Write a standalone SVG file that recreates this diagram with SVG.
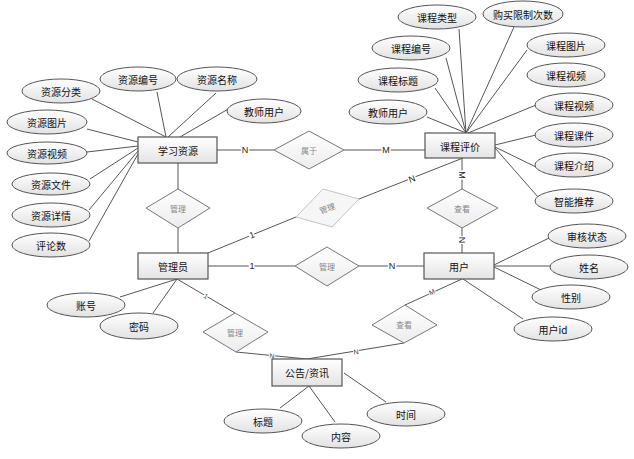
<svg xmlns="http://www.w3.org/2000/svg" width="634" height="459" viewBox="0 0 634 459">
<defs>
<linearGradient id="gE" x1="0" y1="0" x2="0" y2="1"><stop offset="0" stop-color="#ffffff"/><stop offset="1" stop-color="#e4e4e4"/></linearGradient>
<linearGradient id="gA" x1="0" y1="0" x2="0" y2="1"><stop offset="0" stop-color="#ffffff"/><stop offset="1" stop-color="#e2e2e2"/></linearGradient>
<linearGradient id="gR" x1="0" y1="0" x2="0" y2="1"><stop offset="0" stop-color="#ffffff"/><stop offset="1" stop-color="#ececec"/></linearGradient>
</defs>
<style>
.ent{fill:url(#gE);stroke:#555;stroke-width:1.2}
.att{fill:url(#gA);stroke:#555;stroke-width:1}
.rel{fill:url(#gR);stroke:#777;stroke-width:1}
.relf{fill:#f6f6f6;stroke:#c4c4c4;stroke-width:1}
.t{font-family:"Noto Sans CJK SC","Liberation Sans",sans-serif;font-size:10px;fill:#111;text-anchor:middle;dominant-baseline:central}
.rt{font-family:"Noto Sans CJK SC","Liberation Sans",sans-serif;font-size:8px;fill:#888;text-anchor:middle;dominant-baseline:central}
.ln{stroke:#555;stroke-width:1;fill:none}
.lb{font-family:"Liberation Sans",sans-serif;font-size:9px;fill:#222;text-anchor:middle;dominant-baseline:central;stroke:#fff;stroke-width:3;paint-order:stroke}
.lbs{font-family:"Liberation Sans",sans-serif;font-size:7px;fill:#444;text-anchor:middle;dominant-baseline:central;stroke:#fff;stroke-width:2;paint-order:stroke}
</style>
<rect width="634" height="459" fill="#fff"/>
<g id="connectors">
<line class="ln" x1="92" y1="99" x2="166" y2="137"/>
<line class="ln" x1="157" y1="92" x2="166" y2="137"/>
<line class="ln" x1="216" y1="93" x2="168" y2="137"/>
<line class="ln" x1="230" y1="108" x2="180" y2="137"/>
<line class="ln" x1="87" y1="129" x2="138" y2="142"/>
<line class="ln" x1="87" y1="152" x2="138" y2="146"/>
<line class="ln" x1="90" y1="179" x2="138" y2="148"/>
<line class="ln" x1="89" y1="210" x2="138" y2="151"/>
<line class="ln" x1="89" y1="241" x2="138" y2="154"/>
<line class="ln" x1="459" y1="29" x2="466" y2="133"/>
<line class="ln" x1="514" y1="27" x2="466" y2="133"/>
<line class="ln" x1="446" y1="58" x2="466" y2="133"/>
<line class="ln" x1="527" y1="50" x2="466" y2="133"/>
<line class="ln" x1="435" y1="88" x2="466" y2="133"/>
<line class="ln" x1="427" y1="117" x2="466" y2="133"/>
<line class="ln" x1="536" y1="105" x2="468" y2="133"/>
<line class="ln" x1="536" y1="135" x2="495" y2="145"/>
<line class="ln" x1="536" y1="167" x2="495" y2="147"/>
<line class="ln" x1="538" y1="197" x2="495" y2="148"/>
<line class="ln" x1="494" y1="265" x2="549" y2="238"/>
<line class="ln" x1="494" y1="266" x2="550" y2="266"/>
<line class="ln" x1="494" y1="267" x2="541" y2="290"/>
<line class="ln" x1="463" y1="279" x2="523" y2="319"/>
<line class="ln" x1="177" y1="279" x2="120" y2="297"/>
<line class="ln" x1="177" y1="279" x2="153" y2="313"/>
<line class="ln" x1="309" y1="386" x2="280" y2="408"/>
<line class="ln" x1="309" y1="386" x2="335" y2="422"/>
<line class="ln" x1="344" y1="373" x2="386" y2="402"/>
<line class="ln" x1="217" y1="150" x2="274" y2="150"/>
<line class="ln" x1="344" y1="150" x2="425" y2="150"/>
<line class="ln" x1="178" y1="163" x2="178" y2="189"/>
<line class="ln" x1="178" y1="228" x2="178" y2="253"/>
<line class="ln" x1="208" y1="253" x2="296" y2="217"/>
<line class="ln" x1="359" y1="199" x2="463" y2="158"/>
<line class="ln" x1="208" y1="266" x2="295" y2="266"/>
<line class="ln" x1="359" y1="266" x2="424" y2="266"/>
<line class="ln" x1="462" y1="158" x2="462" y2="189"/>
<line class="ln" x1="462" y1="228" x2="462" y2="253"/>
<line class="ln" x1="177" y1="279" x2="235" y2="313"/>
<line class="ln" x1="236" y1="352" x2="307" y2="359"/>
<line class="ln" x1="462" y1="279" x2="405" y2="305"/>
<line class="ln" x1="404" y1="343" x2="307" y2="359"/>
<text class="lb" x="245" y="150">N</text>
<text class="lb" x="386" y="150">M</text>
<text class="lb" x="252" y="235" transform="rotate(-22 252 235)">1</text>
<text class="lb" x="412" y="179" transform="rotate(-21 412 179)">N</text>
<text class="lb" x="252" y="266">1</text>
<text class="lb" x="392" y="266">N</text>
<text class="lb" x="462" y="175" transform="rotate(90 462 175)">M</text>
<text class="lb" x="462" y="240" transform="rotate(90 462 240)">N</text>
<text class="lbs" x="206" y="296" transform="rotate(30 206 296)">1</text>
<text class="lbs" x="272" y="356" transform="rotate(6 272 356)">N</text>
<text class="lbs" x="432" y="292" transform="rotate(-24 432 292)">M</text>
<text class="lbs" x="356" y="352" transform="rotate(-9 356 352)">N</text>
</g>
<g id="e-xuexiziyuan"><rect class="ent" x="138" y="137" width="79" height="26"/><text class="t" x="178" y="150">学习资源</text></g>
<g id="e-kechengpingjia"><rect class="ent" x="425" y="133" width="70" height="25"/><text class="t" x="460" y="146">课程评价</text></g>
<g id="e-guanliyuan"><rect class="ent" x="138" y="253" width="70" height="26"/><text class="t" x="173" y="266">管理员</text></g>
<g id="e-yonghu"><rect class="ent" x="424" y="253" width="70" height="26"/><text class="t" x="459" y="266">用户</text></g>
<g id="e-gonggao"><rect class="ent" x="272" y="359" width="70" height="27"/><text class="t" x="307" y="372">公告/资讯</text></g>
<g id="r-shuyu"><polygon class="rel" points="274,150 309,131 344,150 309,169"/><text class="rt" x="309" y="150">属于</text></g>
<g id="r-guanli1"><polygon class="rel" points="146,208 178,189 210,208 178,228"/><text class="rt" x="178" y="208">管理</text></g>
<g id="r-guanli2"><polygon class="relf" points="296,217 323,189 359,199 332,227"/><text class="rt" x="327" y="208" fill="#999" transform="rotate(-20 327 208)">管理</text></g>
<g id="r-guanli3"><polygon class="rel" points="295,266 327,247 359,266 327,286"/><text class="rt" x="327" y="266">管理</text></g>
<g id="r-chakan1"><polygon class="rel" points="427,208 462,189 498,208 462,228"/><text class="rt" x="462" y="208">查看</text></g>
<g id="r-guanli4"><polygon class="rel" points="203,332 235,313 268,332 236,352"/><text class="rt" x="235" y="332">管理</text></g>
<g id="r-chakan2"><polygon class="rel" points="372,325 405,305 437,325 404,343"/><text class="rt" x="404" y="324">查看</text></g>
<g id="a-ziyuanfenlei"><ellipse class="att" cx="61" cy="91" rx="39" ry="12"/><text class="t" x="61" y="91">资源分类</text></g>
<g id="a-ziyuanbianhao"><ellipse class="att" cx="138" cy="79" rx="38" ry="12"/><text class="t" x="138" y="79">资源编号</text></g>
<g id="a-ziyuanmingcheng"><ellipse class="att" cx="217" cy="79" rx="40" ry="12"/><text class="t" x="217" y="79">资源名称</text></g>
<g id="a-jiaoshi1"><ellipse class="att" cx="264" cy="111" rx="37" ry="12"/><text class="t" x="264" y="111">教师用户</text></g>
<g id="a-ziyuantupian"><ellipse class="att" cx="47" cy="122" rx="40" ry="12"/><text class="t" x="47" y="122">资源图片</text></g>
<g id="a-ziyuanshipin"><ellipse class="att" cx="47" cy="153" rx="40" ry="11"/><text class="t" x="47" y="153">资源视频</text></g>
<g id="a-ziyuanwenjian"><ellipse class="att" cx="51" cy="184" rx="39" ry="11"/><text class="t" x="51" y="184">资源文件</text></g>
<g id="a-ziyuanxiangqing"><ellipse class="att" cx="51" cy="215" rx="39" ry="12"/><text class="t" x="51" y="215">资源详情</text></g>
<g id="a-pinglunshu"><ellipse class="att" cx="51" cy="245" rx="39" ry="12"/><text class="t" x="51" y="245">评论数</text></g>
<g id="a-kechengleixing"><ellipse class="att" cx="437" cy="17" rx="39" ry="12"/><text class="t" x="437" y="17">课程类型</text></g>
<g id="a-goumai"><ellipse class="att" cx="523" cy="14" rx="40" ry="13"/><text class="t" x="523" y="14">购买限制次数</text></g>
<g id="a-kechengbianhao"><ellipse class="att" cx="411" cy="48" rx="39" ry="12"/><text class="t" x="411" y="48">课程编号</text></g>
<g id="a-kechengtupian"><ellipse class="att" cx="566" cy="45" rx="39" ry="12"/><text class="t" x="566" y="45">课程图片</text></g>
<g id="a-kechengbiaoti"><ellipse class="att" cx="398" cy="80" rx="40" ry="12"/><text class="t" x="398" y="80">课程标题</text></g>
<g id="a-kechengshipin1"><ellipse class="att" cx="566" cy="75" rx="39" ry="12"/><text class="t" x="566" y="75">课程视频</text></g>
<g id="a-jiaoshi2"><ellipse class="att" cx="388" cy="112" rx="39" ry="12"/><text class="t" x="388" y="112">教师用户</text></g>
<g id="a-kechengshipin2"><ellipse class="att" cx="574" cy="105" rx="39" ry="12"/><text class="t" x="574" y="105">课程视频</text></g>
<g id="a-kechengkejian"><ellipse class="att" cx="574" cy="135" rx="39" ry="12"/><text class="t" x="574" y="135">课程课件</text></g>
<g id="a-kechengjieshao"><ellipse class="att" cx="574" cy="165" rx="39" ry="12"/><text class="t" x="574" y="165">课程介绍</text></g>
<g id="a-zhinengtuijian"><ellipse class="att" cx="574" cy="201" rx="39" ry="12"/><text class="t" x="574" y="201">智能推荐</text></g>
<g id="a-shenhe"><ellipse class="att" cx="587" cy="236" rx="39" ry="12"/><text class="t" x="587" y="236">审核状态</text></g>
<g id="a-xingming"><ellipse class="att" cx="589" cy="267" rx="39" ry="12"/><text class="t" x="589" y="267">姓名</text></g>
<g id="a-xingbie"><ellipse class="att" cx="571" cy="297" rx="39" ry="12"/><text class="t" x="571" y="297">性别</text></g>
<g id="a-yonghuid"><ellipse class="att" cx="553" cy="329" rx="39" ry="12"/><text class="t" x="553" y="329">用户id</text></g>
<g id="a-zhanghao"><ellipse class="att" cx="86" cy="305" rx="39" ry="12"/><text class="t" x="86" y="305">账号</text></g>
<g id="a-mima"><ellipse class="att" cx="139" cy="326" rx="39" ry="13"/><text class="t" x="139" y="326">密码</text></g>
<g id="a-biaoti"><ellipse class="att" cx="263" cy="421" rx="39" ry="12"/><text class="t" x="263" y="421">标题</text></g>
<g id="a-neirong"><ellipse class="att" cx="341" cy="436" rx="39" ry="12"/><text class="t" x="341" y="436">内容</text></g>
<g id="a-shijian"><ellipse class="att" cx="406" cy="414" rx="39" ry="12"/><text class="t" x="406" y="414">时间</text></g>
</svg>
